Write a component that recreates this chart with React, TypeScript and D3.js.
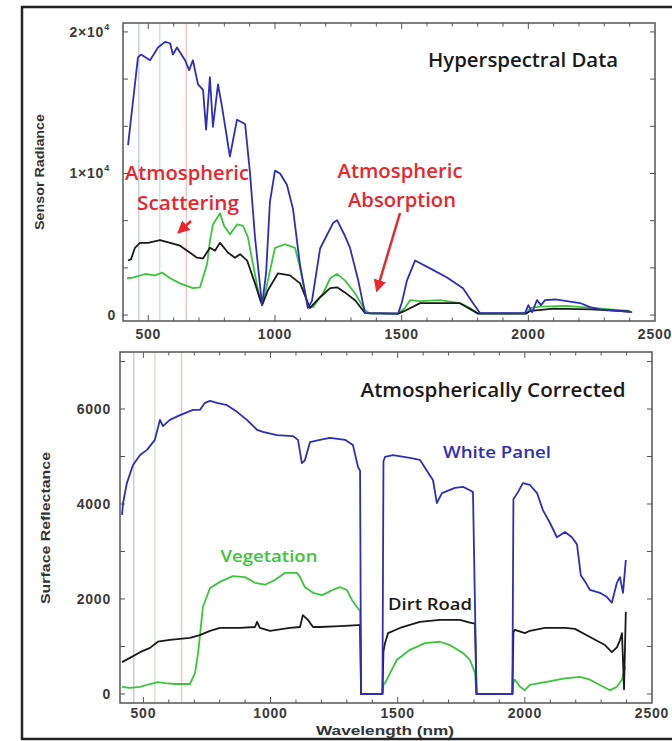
import React from "react";
import * as d3 from "d3";

const W = 672;
const H = 741;

// ---------- Top panel: Sensor radiance ----------
const topWhiteWl = [420,459,471,507,538,566,586,597,613,645,661,676,696,716,728,743,755,775,791,822,850,882,901,921,949,965,980,1000,1020,1047,1071,1099,1130,1146,1178,1229,1245,1276,1296,1328,1355,1486,1501,1521,1553,1612,1679,1742,1782,1809,1987,2000,2015,2034,2050,2066,2106,2204,2244,2283,2410];
const topWhiteVal = [12000,18200,18400,18000,18900,19300,19200,18400,18900,18000,17300,18000,16300,15900,13100,16800,13300,16300,14700,11200,13800,13500,10100,5500,700,3000,8000,10200,10000,9200,7500,3500,500,1000,4700,6500,6700,5600,4750,2500,140,100,900,2450,3850,3300,2650,1900,840,140,140,700,200,1050,700,1050,1100,850,560,400,200];

const topVegWl = [416,439,487,526,554,586,625,676,704,732,743,755,771,783,799,822,850,874,893,913,941,953,972,1000,1040,1079,1099,1130,1150,1190,1218,1245,1276,1316,1355,1375,1486,1513,1533,1573,1652,1730,1770,1802,1990,2010,2050,2150,2250,2400];
const topVegVal = [2600,2650,2900,2800,3000,2600,2240,1900,1960,3600,5200,6400,6850,7200,6300,5700,6400,6300,5500,3600,1050,840,2450,4750,5000,4750,3350,560,560,1540,2600,2900,2450,1540,350,100,100,500,1050,980,1050,840,500,100,100,500,600,650,500,300];

const topRoadWl = [420,432,447,467,499,546,586,625,665,692,716,743,763,783,815,842,862,890,921,949,972,1012,1059,1099,1138,1178,1218,1245,1276,1316,1355,1486,1513,1573,1730,1802,1990,2010,2100,2250,2400];
const topRoadVal = [3850,3950,4750,5100,5100,5300,5100,4900,4400,4050,4000,4750,4550,5100,4400,4050,4300,3850,2240,700,1750,2950,2800,2240,500,1260,1900,1960,1600,1050,140,100,300,840,840,100,100,300,450,400,250];

// ---------- Bottom panel: Surface reflectance ----------
const botWhiteWl = [416,420,435,459,487,514,545,565,577,604,644,695,722,742,762,789,829,868,907,947,970,1025,1088,1108,1123,1135,1155,1194,1234,1293,1324,1344,1352,1356,1440,1444,1450,1481,1548,1587,1639,1654,1674,1725,1757,1784,1796,1810,1951,1955,1961,1973,1992,2020,2048,2071,2099,2126,2158,2185,2205,2220,2240,2256,2295,2323,2342,2362,2374,2386,2397];
const botWhiteVal = [3770,4020,4440,4820,5030,5140,5350,5770,5640,5770,5870,5980,5980,6130,6170,6130,6080,5940,5770,5560,5520,5450,5430,5350,4860,4920,5300,5350,5390,5350,5240,4780,4700,0,0,4900,4990,5030,4970,4930,4500,4020,4230,4340,4360,4290,4250,0,0,4100,4150,4250,4440,4400,4230,3870,3600,3300,3410,3300,3150,2500,2340,2190,2130,2040,1920,2340,2460,2130,2820];

const botVegWl = [416,447,487,526,557,585,624,683,703,715,734,762,801,852,899,939,978,1017,1057,1104,1116,1135,1167,1202,1245,1273,1300,1320,1340,1352,1356,1440,1444,1450,1470,1497,1548,1607,1666,1705,1757,1784,1804,1810,1951,1955,1961,1981,2000,2020,2079,2158,2217,2256,2295,2335,2362,2382,2394];
const botVegVal = [150,130,150,210,250,230,210,210,440,860,1830,2230,2360,2480,2460,2340,2300,2400,2550,2550,2460,2250,2130,2080,2190,2250,2190,1980,1830,1750,0,0,200,230,440,720,930,1070,1100,1030,860,720,440,0,0,250,300,150,80,190,250,330,360,300,190,80,150,300,570];

const botRoadWl = [416,447,487,526,557,604,683,722,762,801,880,939,947,958,998,1076,1116,1127,1147,1167,1194,1273,1344,1352,1356,1440,1444,1450,1462,1509,1587,1666,1745,1784,1804,1810,1951,1955,1961,2000,2020,2079,2158,2197,2256,2315,2342,2362,2374,2382,2390,2397];
const botRoadVal = [670,760,880,970,1100,1140,1180,1240,1330,1390,1390,1410,1520,1390,1330,1390,1410,1660,1560,1410,1410,1430,1450,1450,0,0,900,1070,1280,1390,1520,1560,1560,1500,1480,0,0,1300,1350,1280,1330,1390,1390,1370,1200,1030,880,980,1130,1280,100,1730];

// ---------- ticks / labels ----------
const xTickLabels = [500, 1000, 1500, 2000, 2500];
const xMinorTicks = d3.range(500, 2500, 100);
const topYTicks = [0, 10000 / 3, 20000 / 3, 10000, 40000 / 3, 50000 / 3, 20000];
const topYLabels = [
  { v: 0, m: "0", e: "" },
  { v: 10000, m: "1\u00d710", e: "4" },
  { v: 20000, m: "2\u00d710", e: "4" },
];
const botYTicks = [0, 1000, 2000, 3000, 4000, 5000, 6000, 7000];
const botYLabels = [0, 2000, 4000, 6000];
const bandLines = [
  { wl: 462, color: "#c9cde0" },
  { wl: 545, color: "#cfe6cf" },
  { wl: 650, color: "#efc6c6" },
];

const BLUE = "#2e2eb8";
const GREEN = "#3cc43c";
const BLACK = "#1a1a1a";
const RED = "#e8262e";
const AXIS = "#555";

const xTop = d3.scaleLinear().domain([400, 2500]).range([123, 655]);
const yTop = d3.scaleLinear().domain([-420, 20630]).range([321, 23]);
const xBot = d3.scaleLinear().domain([408, 2500]).range([120, 652]);
const yBot = d3.scaleLinear().domain([-190, 7200]).range([703, 352]);

function pathOf(wl: number[], val: number[], xs: any, ys: any) {
  const pts = wl.map((w, i) => [w, val[i]] as [number, number]);
  return d3
    .line<[number, number]>()
    .x((d) => xs(d[0]))
    .y((d) => ys(d[1]))(pts) as string;
}

function Frame({ xs, ys, x0, x1, yTicks }: any) {
  const [left, right] = [xs(x0), xs(x1)];
  const [bottom, top] = ys.range();
  const els: any[] = [];
  xMinorTicks.forEach((t, i) => {
    const major = t % 500 === 0;
    const L = major ? 6 : 3.5;
    const x = xs(t);
    els.push(<line key={"xb" + i} x1={x} x2={x} y1={bottom} y2={bottom - L} stroke={AXIS} strokeWidth={1} />);
    els.push(<line key={"xt" + i} x1={x} x2={x} y1={top} y2={top + L} stroke={AXIS} strokeWidth={1} />);
  });
  yTicks.forEach((t: number, i: number) => {
    const y = ys(t);
    els.push(<line key={"yl" + i} x1={left} x2={left + 5} y1={y} y2={y} stroke={AXIS} strokeWidth={1} />);
    els.push(<line key={"yr" + i} x1={right} x2={right - 5} y1={y} y2={y} stroke={AXIS} strokeWidth={1} />);
  });
  return (
    <g>
      <rect x={left} y={top} width={right - left} height={bottom - top} fill="none" stroke={AXIS} strokeWidth={1.5} />
      {els}
    </g>
  );
}

const LA = "spacingAndGlyphs";

export default function App() {
  const tickFont = { fontFamily: "Liberation Sans, Arial, sans-serif", fontWeight: 700, fontSize: 14, fill: "#3a3a3a", letterSpacing: 0.8 } as any;
  const titleFont = { fontFamily: "Open Sans, Lato, sans-serif", fontWeight: 600, fill: "#1a1a1a" } as any;
  const labFont = { fontFamily: "Liberation Sans, Arial, sans-serif", fontWeight: 700, fill: "#333" } as any;
  const annFont = { fontFamily: "Open Sans, Lato, sans-serif", fontWeight: 600 } as any;
  const [tb, tt] = yTop.range();
  const [bb, bt] = yBot.range();
  return (
    <svg width={W} height={H} style={{ position: "absolute", left: 0, top: 0, background: "#fff" }}>
      <rect x={0} y={0} width={W} height={H} fill="#fff" />
      <rect x={22} y={7} width={680} height={732} fill="none" stroke="#222" strokeWidth={2.5} />

      {/* band lines */}
      {bandLines.map((b, i) => (
        <line key={"bt" + i} x1={xTop(b.wl)} x2={xTop(b.wl)} y1={tt} y2={tb} stroke={b.color} strokeWidth={1.5} />
      ))}
      {bandLines.map((b, i) => (
        <line key={"bb" + i} x1={xBot(b.wl)} x2={xBot(b.wl)} y1={bt} y2={bb} stroke={b.color} strokeWidth={1.5} />
      ))}

      {/* top panel */}
      <path d={pathOf(topVegWl, topVegVal, xTop, yTop)} fill="none" stroke={GREEN} strokeWidth={1.8} strokeLinejoin="round" />
      <path d={pathOf(topRoadWl, topRoadVal, xTop, yTop)} fill="none" stroke={BLACK} strokeWidth={1.8} strokeLinejoin="round" />
      <path d={pathOf(topWhiteWl, topWhiteVal, xTop, yTop)} fill="none" stroke={BLUE} strokeWidth={1.8} strokeLinejoin="round" />
      <Frame xs={xTop} ys={yTop} x0={400} x1={2500} yTicks={topYTicks} />

      {xTickLabels.map((t) => (
        <text key={"tx" + t} x={xTop(t)} y={339} textAnchor="middle" {...tickFont}>{t}</text>
      ))}
      {topYLabels.map((l) => (
        <text key={"ty" + l.v} x={l.e ? 110 : 116} y={yTop(l.v) + 5} textAnchor="end" {...tickFont}>
          {l.m}
          {l.e ? <tspan dy={-7} fontSize={9}>{l.e}</tspan> : null}
        </text>
      ))}
      <text transform="translate(44,172) rotate(-90)" textAnchor="middle" fontSize={13} textLength={116} lengthAdjust={LA} {...labFont}>Sensor Radiance</text>

      <text x={523} y={67} textAnchor="middle" fontSize={19} textLength={190} lengthAdjust={LA} {...titleFont}>Hyperspectral Data</text>

      {/* red annotations */}
      <g fill={RED} textAnchor="middle" fontSize={19} {...annFont}>
        <text x={187} y={180} textLength={124} lengthAdjust={LA}>Atmospheric</text>
        <text x={188} y={210} textLength={102} lengthAdjust={LA}>Scattering</text>
        <text x={400} y={178} textLength={125} lengthAdjust={LA}>Atmospheric</text>
        <text x={402} y={207} textLength={108} lengthAdjust={LA}>Absorption</text>
      </g>
      <defs>
        <marker id="ah" viewBox="0 0 10 10" refX="8" refY="5" markerWidth="5" markerHeight="5" orient="auto">
          <path d="M0,0 L10,5 L0,10 z" fill={RED} />
        </marker>
      </defs>
      <line x1={191} y1={221} x2={179} y2={232} stroke={RED} strokeWidth={2.5} markerEnd="url(#ah)" />
      <line x1={400} y1={213} x2={377} y2={290} stroke={RED} strokeWidth={2.5} markerEnd="url(#ah)" />

      {/* bottom panel */}
      <path d={pathOf(botVegWl, botVegVal, xBot, yBot)} fill="none" stroke={GREEN} strokeWidth={1.8} strokeLinejoin="round" />
      <path d={pathOf(botRoadWl, botRoadVal, xBot, yBot)} fill="none" stroke={BLACK} strokeWidth={1.8} strokeLinejoin="round" />
      <path d={pathOf(botWhiteWl, botWhiteVal, xBot, yBot)} fill="none" stroke={BLUE} strokeWidth={1.8} strokeLinejoin="round" />
      <Frame xs={xBot} ys={yBot} x0={408} x1={2500} yTicks={botYTicks} />

      {xTickLabels.map((t) => (
        <text key={"bx" + t} x={xBot(t)} y={718} textAnchor="middle" {...tickFont}>{t}</text>
      ))}
      {botYLabels.map((v) => (
        <text key={"by" + v} x={111} y={yBot(v) + 5} textAnchor="end" {...tickFont}>{v}</text>
      ))}
      <text transform="translate(50,528) rotate(-90)" textAnchor="middle" fontSize={13} textLength={152} lengthAdjust={LA} {...labFont}>Surface Reflectance</text>
      <text x={385} y={735} textAnchor="middle" fontSize={12.5} textLength={138} lengthAdjust={LA} {...labFont}>Wavelength (nm)</text>

      <text x={493} y={397} textAnchor="middle" fontSize={20} textLength={265} lengthAdjust={LA} {...titleFont}>Atmospherically Corrected</text>
      <text x={497} y={458} textAnchor="middle" fontSize={16} textLength={108} lengthAdjust={LA} fill={BLUE} {...annFont}>White Panel</text>
      <text x={269} y={562} textAnchor="middle" fontSize={16} textLength={97} lengthAdjust={LA} fill={GREEN} {...annFont}>Vegetation</text>
      <text x={430} y={610} textAnchor="middle" fontSize={16} textLength={84} lengthAdjust={LA} fill={BLACK} {...annFont}>Dirt Road</text>
    </svg>
  );
}
